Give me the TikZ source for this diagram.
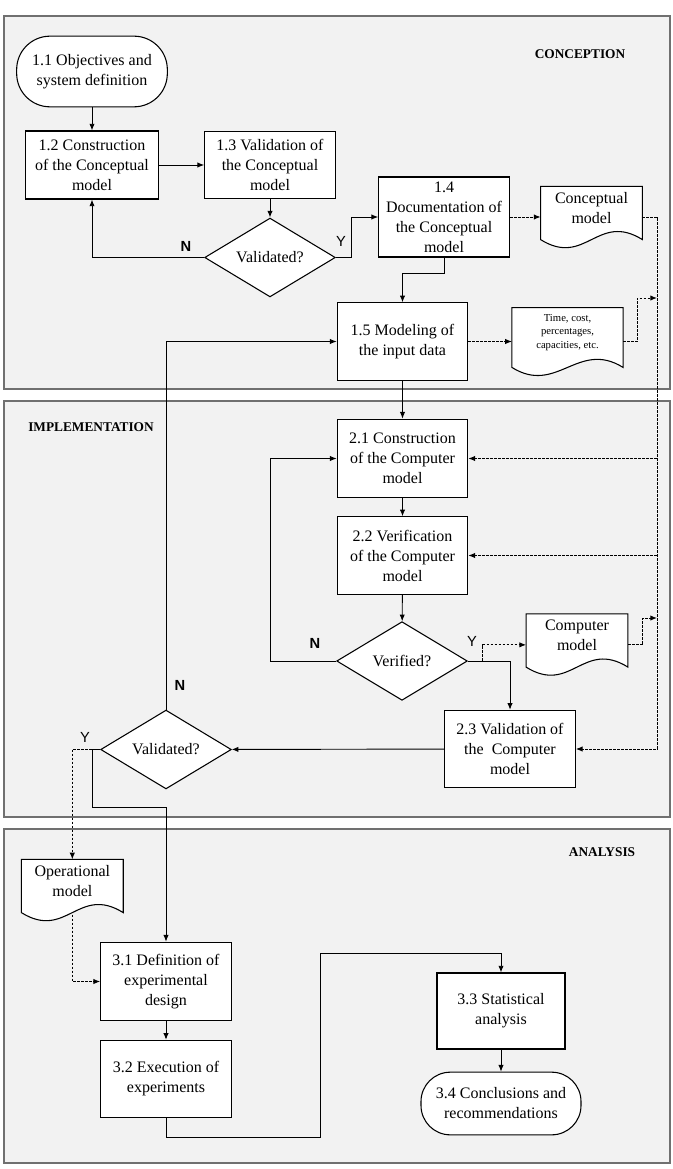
\documentclass[tikz,border=0pt]{standalone}
\usepackage{fontspec}
\setmainfont{Liberation Serif}
\setsansfont{Liberation Sans}
\usetikzlibrary{arrows.meta,shapes.geometric,calc,backgrounds}
\definecolor{panelgray}{HTML}{F2F2F2}
\definecolor{framegray}{HTML}{707070}

\begin{document}
\begin{tikzpicture}[x=0.75pt,y=-0.75pt,
  >={Latex[length=5pt,width=4pt]},
  every node/.style={font=\fontsize{12}{15}\selectfont},
  phase/.style={draw=framegray,line width=1.1pt,fill=panelgray},
  phasename/.style={font=\fontsize{10}{12}\selectfont\bfseries},
  stage/.style={draw,fill=white,line width=0.8pt,align=center,inner sep=1pt,minimum width=98pt,minimum height=58pt},
  term/.style={stage,rounded corners=24pt},
  test/.style={diamond,draw,fill=white,line width=0.8pt,inner sep=0pt,minimum width=98pt,minimum height=59pt},
  doc/.style={align=center,inner sep=1pt,minimum width=76pt,minimum height=32pt},
  lblN/.style={font=\fontsize{11}{13}\selectfont\sffamily\bfseries},
  lblY/.style={font=\fontsize{11}{13}\selectfont\sffamily},
  flow/.style={line width=0.7pt,->},
  data/.style={line width=0.7pt,dash pattern=on 2pt off 1pt},
]
\useasboundingbox (0,0) rectangle (673,1169);
\begin{scope}[on background layer]
\draw[phase] (4,16) rectangle (670,389);
\draw[phase] (4,401) rectangle (670,817);
\draw[phase] (4,829) rectangle (670,1163);
\end{scope}

\node[phasename] (p1) at (580,54) {CONCEPTION};
\node[phasename] (p2) at (91,427) {IMPLEMENTATION};
\node[phasename] (p3) at (602,852) {ANALYSIS};

% conception
\node[term,minimum width=113pt,minimum height=53pt,rounded corners=25pt] (n11) at (92,71.5) {1.1 Objectives and\\system definition};
\node[stage,minimum width=100pt,minimum height=51pt] (n12) at (92,165) {1.2 Construction\\of the Conceptual\\model};
\node[stage,minimum height=50pt] (n13) at (270,165) {1.3 Validation of\\the Conceptual\\model};
\node[test] (d13) at (270,257.5) {Validated?};
\node[stage,minimum height=60pt] (n14) at (444,217) {1.4\\Documentation of\\the Conceptual\\model};
\node[doc] (cm) at (591.5,208) {Conceptual\\model};
\node[stage] (n15) at (402.5,341.5) {1.5 Modeling of\\the input data};
\node[doc,font=\fontsize{8}{10}\selectfont,minimum width=83pt,minimum height=37pt] (td) at (567.5,332.5) {Time, cost,\\percentages,\\capacities, etc.};

% implementation
\node[stage,minimum height=59pt] (n21) at (402.5,458.5) {2.1 Construction\\of the Computer\\model};
\node[stage] (n22) at (402.5,555.5) {2.2 Verification\\of the Computer\\model};
\node[test] (d22) at (402,661) {Verified?};
\node[doc] (km) at (577,635.5) {Computer\\model};
\node[stage] (n23) at (510,749) {2.3 Validation of\\the\ \ Computer\\model};
\node[test] (d23) at (166,749.5) {Validated?};

% analysis
\node[doc] (om) at (72.3,881) {Operational\\model};
\node[stage,minimum height=59pt] (n31) at (166,981.5) {3.1 Definition of\\experimental\\design};
\node[stage] (n32) at (166,1079) {3.2 Execution of\\experiments};
\node[stage,minimum width=96pt,minimum height=57pt] (n33) at (501,1011) {3.3 Statistical\\analysis};
\node[term,minimum width=120pt,minimum height=47pt,rounded corners=22pt] (n34) at (501,1103.5) {3.4 Conclusions and\\recommendations};

\begin{scope}[on background layer]
\foreach \d in {cm,td,km,om}{
  \draw[fill=white,line width=0.8pt] (\d.north west) -- ($(\d.south west)+(0,10)$)
    .. controls +(45,28) and +(-45,-28) .. ($(\d.south east)+(0,10)$) -- (\d.north east) -- cycle;
}
\end{scope}

\node[lblN] (no1) at (186,246) {N};
\node[lblY] (yes1) at (341,241) {Y};
\node[lblN] (no2) at (315,643) {N};
\node[lblY] (yes2) at (472,641) {Y};
\node[lblN] (no3) at (180,685) {N};
\node[lblY] (yes3) at (85,737) {Y};

\coordinate (busT) at (657,217);
\coordinate (jT) at (657,298);
\coordinate (jK) at (657,618);

\draw[flow] (n11) -- (n12);
\draw[flow] (n12) -- (n13);
\draw[flow] (n13) -- (d13);
\draw[flow] (d13.west) -| (n12.south);
\draw[flow] (d13.east) -- ++(16,0) |- (n14.west);
\draw[flow] (n14.south) -- ++(0,16) -| (n15.north);
\draw[flow] (n15) -- (n21);
\draw[flow] (n21) -- (n22);
\draw[flow] (n22) -- (d22);
\draw[flow] (d22.west) -- ++(-66,0) |- (n21.west);
\draw[flow] (d22.east) -| (n23.north);
\draw[flow] (n23) -- (d23);
\draw[flow] (d23.north) |- (n15.west);
\draw[flow] (d23.west) -- ++(-8,0) -- ++(0,58) -| (n31.north);
\draw[flow] (n31) -- (n32);
\draw[flow] (n32.south) -- ++(0,19) -- ++(154,0) |- ($(n33.north)+(0,-19)$) -- (n33.north);
\draw[flow] (n33) -- (n34);

\draw[data,->] (n14.east) -- (n14.east -| cm.west);
\draw[data,->] (cm.east |- n14.east) -- (busT) |- (n23.east);
\draw[data,->] (busT |- n21.east) -- (n21.east);
\draw[data,->] (busT |- n22.east) -- (n22.east);
\draw[data,->] (n15.east) -- (n15.east -| td.west);
\draw[data,->] (n15.east -| td.east) -- ++(14,0) |- (jT);
\draw[data,->] ($(d22.east)+(15,0)$) |- ([yshift=-7pt]km.west);
\draw[data,->] ([yshift=-7pt]km.east) -- ++(15,0) |- (jK);
\draw[data,->] ($(d23.west)+(-8,0)$) -| (om.north);
\draw[data,->] ($(om.south)+(0,12)$) |- (n31.west);
\end{tikzpicture}
\end{document}
